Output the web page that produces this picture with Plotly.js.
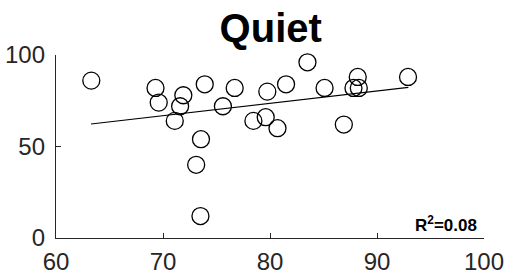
<!DOCTYPE html>
<html>
<head>
<meta charset="utf-8">
<script src="https://cdn.plot.ly/plotly-3.0.1.min.js"></script>
<style>
html,body{margin:0;padding:0;background:#fff;}
#chart{width:506px;height:275px;}
</style>
</head>
<body>
<div id="chart"></div>
<script>
// Scatter data (x, y)
const xValues = [63.3, 69.3, 69.6, 71.9, 71.6, 71.1, 73.9, 73.55, 73.1, 73.5, 76.7, 75.6, 78.45, 79.6, 79.75, 80.7, 81.5, 83.5, 85.1, 86.9, 87.8, 88.3, 88.2, 92.9];
const yValues = [86, 82, 74, 78, 72, 64, 84, 54, 40, 12, 82, 72, 64, 66, 80, 60, 84, 96, 82, 62, 82, 82, 88, 88];
// Fit line endpoints
const fitX = [63.27, 92.93];
const fitY = [62.3, 82.3];
const xTicks = [60, 70, 80, 90, 100];
const yTicks = [0, 50, 100];
const titleText = 'Quiet';
const r2Text = '<b>R<sup>2</sup>=0.08</b>';

const FONT = 'Liberation Sans, Arial, Helvetica, sans-serif';
const AX = '#262626';

const traces = [
  {
    x: xValues, y: yValues, type: 'scatter', mode: 'markers',
    marker: {symbol: 'circle-open', size: 17, color: '#000', line: {width: 1.3, color: '#000'}},
    showlegend: false, hoverinfo: 'skip', cliponaxis: false
  },
  {
    x: fitX, y: fitY, type: 'scatter', mode: 'lines',
    line: {color: '#000', width: 1.2},
    showlegend: false, hoverinfo: 'skip'
  }
];

const layout = {
  width: 506, height: 275,
  margin: {l: 56, r: 22, t: 55, b: 37, pad: 0},
  paper_bgcolor: '#fff', plot_bgcolor: '#fff',
  font: {family: FONT, color: '#000'},
  title: {
    text: '<b>' + titleText + '</b>',
    font: {family: FONT, size: 40, color: '#000'},
    x: 0.535, xanchor: 'center', xref: 'container',
    y: 0.9, yanchor: 'middle', yref: 'container'
  },
  xaxis: {
    range: [60, 100], tickvals: xTicks, ticktext: xTicks.map(String),
    ticks: 'inside', ticklen: 5, tickwidth: 1, tickcolor: AX,
    showline: true, linecolor: AX, linewidth: 1.2, mirror: false,
    showgrid: false, zeroline: false,
    tickfont: {family: FONT, size: 24, color: AX},
    ticklabelstandoff: 2
  },
  yaxis: {
    range: [0, 100], tickvals: yTicks, ticktext: yTicks.map(String),
    ticks: 'inside', ticklen: 5, tickwidth: 1, tickcolor: AX,
    showline: true, linecolor: AX, linewidth: 1.2, mirror: false,
    showgrid: false, zeroline: false,
    tickfont: {family: FONT, size: 24, color: AX},
    ticklabelstandoff: 5
  },
  annotations: [{
    text: r2Text, x: 99.5, y: 7.5, xref: 'x', yref: 'y',
    xanchor: 'right', yanchor: 'middle', showarrow: false,
    font: {family: FONT, size: 17, color: '#000'}
  }]
};

Plotly.newPlot('chart', traces, layout, {displayModeBar: false, staticPlot: true});
</script>
</body>
</html>
